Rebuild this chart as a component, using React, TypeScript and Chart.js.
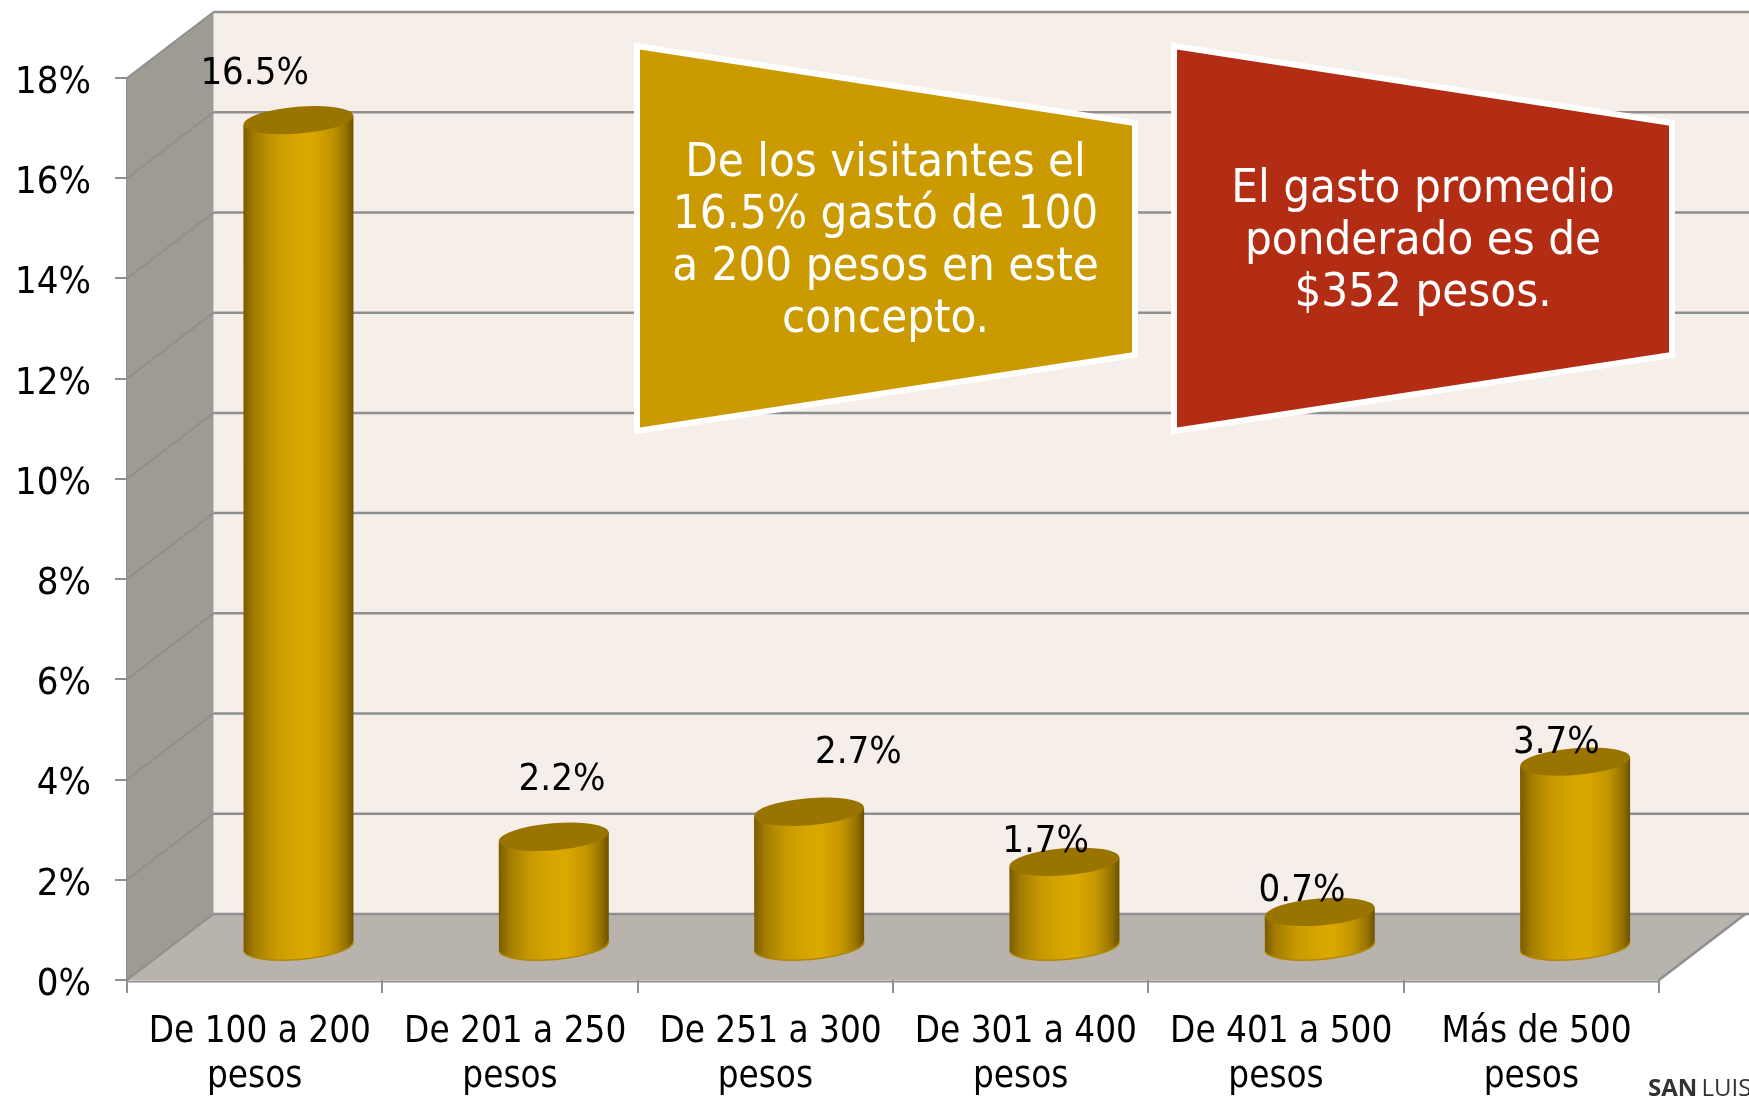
import React, { useEffect, useRef } from "react";
import { Chart, registerables } from "chart.js";

Chart.register(...registerables);

const categories = [
  ["De 100 a 200", "pesos"],
  ["De 201 a 250", "pesos"],
  ["De 251 a 300", "pesos"],
  ["De 301 a 400", "pesos"],
  ["De 401 a 500", "pesos"],
  ["Más de 500", "pesos"],
];
const values = [16.5, 2.2, 2.7, 1.7, 0.7, 3.7];
const valueLabels = ["16.5%", "2.2%", "2.7%", "1.7%", "0.7%", "3.7%"];
const labelNudgeX = [0, 52, 93, 25, 26, 25];
const labelNudgeY = [-79, -90, -92, -53, -54, -51];
const goldLines = ["De los visitantes el", "16.5% gastó de 100", "a 200 pesos en este", "concepto."];
const redLines = ["El gasto promedio", "ponderado es de", "$352 pesos."];

const FONT = '"DejaVu Sans Condensed", "DejaVu Sans", sans-serif';
const W = 1749;
const H = 1104;
const DX = 86.5;
const DY = -66;
const GRID = "#8f8f8f";

function poly(ctx: any, pts: number[][], fill?: string, stroke?: string, lw = 2) {
  ctx.beginPath();
  pts.forEach((p, i) => (i ? ctx.lineTo(p[0], p[1]) : ctx.moveTo(p[0], p[1])));
  ctx.closePath();
  if (fill) {
    ctx.fillStyle = fill;
    ctx.fill();
  }
  if (stroke) {
    ctx.strokeStyle = stroke;
    ctx.lineWidth = lw;
    ctx.lineJoin = "miter";
    ctx.stroke();
  }
}

function line(ctx: any, x1: number, y1: number, x2: number, y2: number, lw = 2, c = GRID) {
  ctx.beginPath();
  ctx.moveTo(x1, y1);
  ctx.lineTo(x2, y2);
  ctx.strokeStyle = c;
  ctx.lineWidth = lw;
  ctx.stroke();
}

const roomPlugin = {
  id: "room",
  beforeDatasetsDraw(chart: any) {
    const { ctx, scales } = chart;
    const y = scales.y;
    const left = scales.x.left;
    const right = scales.x.right;
    const y0 = y.getPixelForValue(0);
    const yMax = y.getPixelForValue(18);
    ctx.save();
    poly(ctx, [[left + DX, yMax + DY], [W, yMax + DY], [W, y0 + DY], [left + DX, y0 + DY]], "#f6eee8");
    poly(ctx, [[left, yMax], [left + DX, yMax + DY], [left + DX, y0 + DY], [left, y0]], "#9e9b93");
    poly(ctx, [[left, y0], [left + DX, y0 + DY], [right + DX, y0 + DY], [right, y0]], "#b8b3ac");
    y.ticks.forEach((t: any) => {
      const py = y.getPixelForValue(t.value);
      line(ctx, left, py, left + DX, py + DY, 2);
      line(ctx, left + DX, py + DY, W, py + DY, 2.5);
    });
    line(ctx, right, y0, right + DX, y0 + DY, 2.5);
    line(ctx, left, y0 + 1.5, right, y0 + 1.5, 2);
    ctx.restore();
  },
};

const cylinderPlugin = {
  id: "cylinders",
  afterDatasetsDraw(chart: any) {
    const { ctx, scales } = chart;
    const meta = chart.getDatasetMeta(0);
    const tilt = -0.082;
    const ry = 13.5;
    meta.data.forEach((bar: any) => {
      const cx = bar.x + DX / 2 + 0.5;
      const rx = bar.width / 2;
      const topY = bar.y + DY / 2;
      const baseY = bar.base + DY / 2;
      const g = ctx.createLinearGradient(cx - rx, 0, cx + rx, 0);
      g.addColorStop(0, "#7a5b00");
      g.addColorStop(0.1, "#a37c00");
      g.addColorStop(0.3, "#c99b00");
      g.addColorStop(0.5, "#d9a600");
      g.addColorStop(0.62, "#dba800");
      g.addColorStop(0.8, "#c29500");
      g.addColorStop(0.93, "#967200");
      g.addColorStop(1, "#6b5100");
      const lift = rx * Math.sin(-tilt);
      ctx.save();
      ctx.beginPath();
      ctx.moveTo(cx - rx, topY + lift);
      ctx.lineTo(cx + rx, topY - lift);
      ctx.lineTo(cx + rx, baseY - lift);
      ctx.ellipse(cx, baseY, rx, ry, tilt, 0, Math.PI);
      ctx.closePath();
      ctx.fillStyle = g;
      ctx.fill();
      ctx.beginPath();
      ctx.ellipse(cx, baseY, rx, ry, tilt, 0, Math.PI);
      ctx.strokeStyle = "#b28700";
      ctx.lineWidth = 1.5;
      ctx.stroke();
      ctx.beginPath();
      ctx.ellipse(cx, topY, rx, ry, tilt, 0, Math.PI * 2);
      ctx.fillStyle = "#9a7400";
      ctx.fill();
      ctx.restore();
    });
    ctx.save();
    ctx.fillStyle = "#000";
    ctx.font = `38px ${FONT}`;
    ctx.textAlign = "center";
    ctx.textBaseline = "middle";
    values.forEach((v, i) => {
      const px = scales.x.getPixelForValue(i) + labelNudgeX[i];
      const py = scales.y.getPixelForValue(v) + labelNudgeY[i];
      ctx.fillText(valueLabels[i], px, py);
    });
    ctx.restore();
  },
};

const calloutPlugin = {
  id: "callouts",
  afterDraw(chart: any) {
    const { ctx } = chart;
    const drawBox = (x1: number, x2: number, fill: string, lines: string[], cx: number, firstY: number) => {
      poly(ctx, [[x1, 46], [x2, 123], [x2, 355], [x1, 431]], fill, "#ffffff", 6);
      ctx.fillStyle = "#fff";
      ctx.font = `47px ${FONT}`;
      ctx.textAlign = "center";
      ctx.textBaseline = "middle";
      lines.forEach((s, i) => ctx.fillText(s, cx, firstY + i * 52));
    };
    ctx.save();
    drawBox(637, 1135, "#ca9a00", goldLines, 885.5, 164);
    drawBox(1174, 1672, "#b22d13", redLines, 1423, 190);
    ctx.textAlign = "left";
    ctx.textBaseline = "alphabetic";
    ctx.fillStyle = "#333";
    ctx.font = 'bold 24px "Open Sans", sans-serif';
    ctx.fillText("SAN", 1648, 1096);
    const w = ctx.measureText("SAN ").width;
    ctx.font = '24px "Open Sans", sans-serif';
    ctx.fillText("LUIS", 1648 + w - 2, 1096);
    ctx.restore();
  },
};

export default function App() {
  const ref = useRef<HTMLCanvasElement>(null);
  useEffect(() => {
    document.body.style.margin = "0";
    document.body.style.overflow = "hidden";
    const chart = new Chart(ref.current as HTMLCanvasElement, {
      type: "bar",
      data: {
        labels: categories,
        datasets: [
          {
            data: values,
            backgroundColor: "rgba(0,0,0,0)",
            barPercentage: 0.431,
            categoryPercentage: 1,
          },
        ],
      },
      plugins: [roomPlugin, cylinderPlugin, calloutPlugin],
      options: {
        animation: false,
        responsive: false,
        layout: { padding: { top: 78, right: 90, left: 0, bottom: 0 } },
        plugins: { legend: { display: false }, tooltip: { enabled: false }, title: { display: false } },
        scales: {
          x: {
            offset: true,
            afterFit: (s: any) => {
              s.height = 124;
            },
            grid: { offset: true, drawOnChartArea: false, drawTicks: true, tickLength: 13, color: GRID, lineWidth: 2 },
            border: { display: false },
            ticks: {
              color: "#000",
              maxRotation: 0,
              autoSkip: false,
              padding: 17,
              font: { family: FONT, size: 36.5, lineHeight: 1.24 },
              callback: (_v: any, i: number) => [" " + categories[i][0], categories[i][1]],
            },
          },
          y: {
            min: 0,
            max: 18,
            afterFit: (s: any) => {
              s.width = 127;
            },
            grid: { drawOnChartArea: false, drawTicks: true, tickLength: 12, color: GRID, lineWidth: 2 },
            border: { display: true, color: GRID, width: 2 },
            ticks: {
              stepSize: 2,
              color: "#000",
              padding: 24,
              labelOffset: 5,
              font: { family: FONT, size: 38 },
              callback: (v: any) => `${v}%`,
            },
          },
        },
      },
    });
    return () => chart.destroy();
  }, []);
  return (
    <div style={{ position: "absolute", left: 0, top: 0, width: W, height: H }}>
      <canvas ref={ref} width={W} height={H} style={{ display: "block" }} />
    </div>
  );
}
